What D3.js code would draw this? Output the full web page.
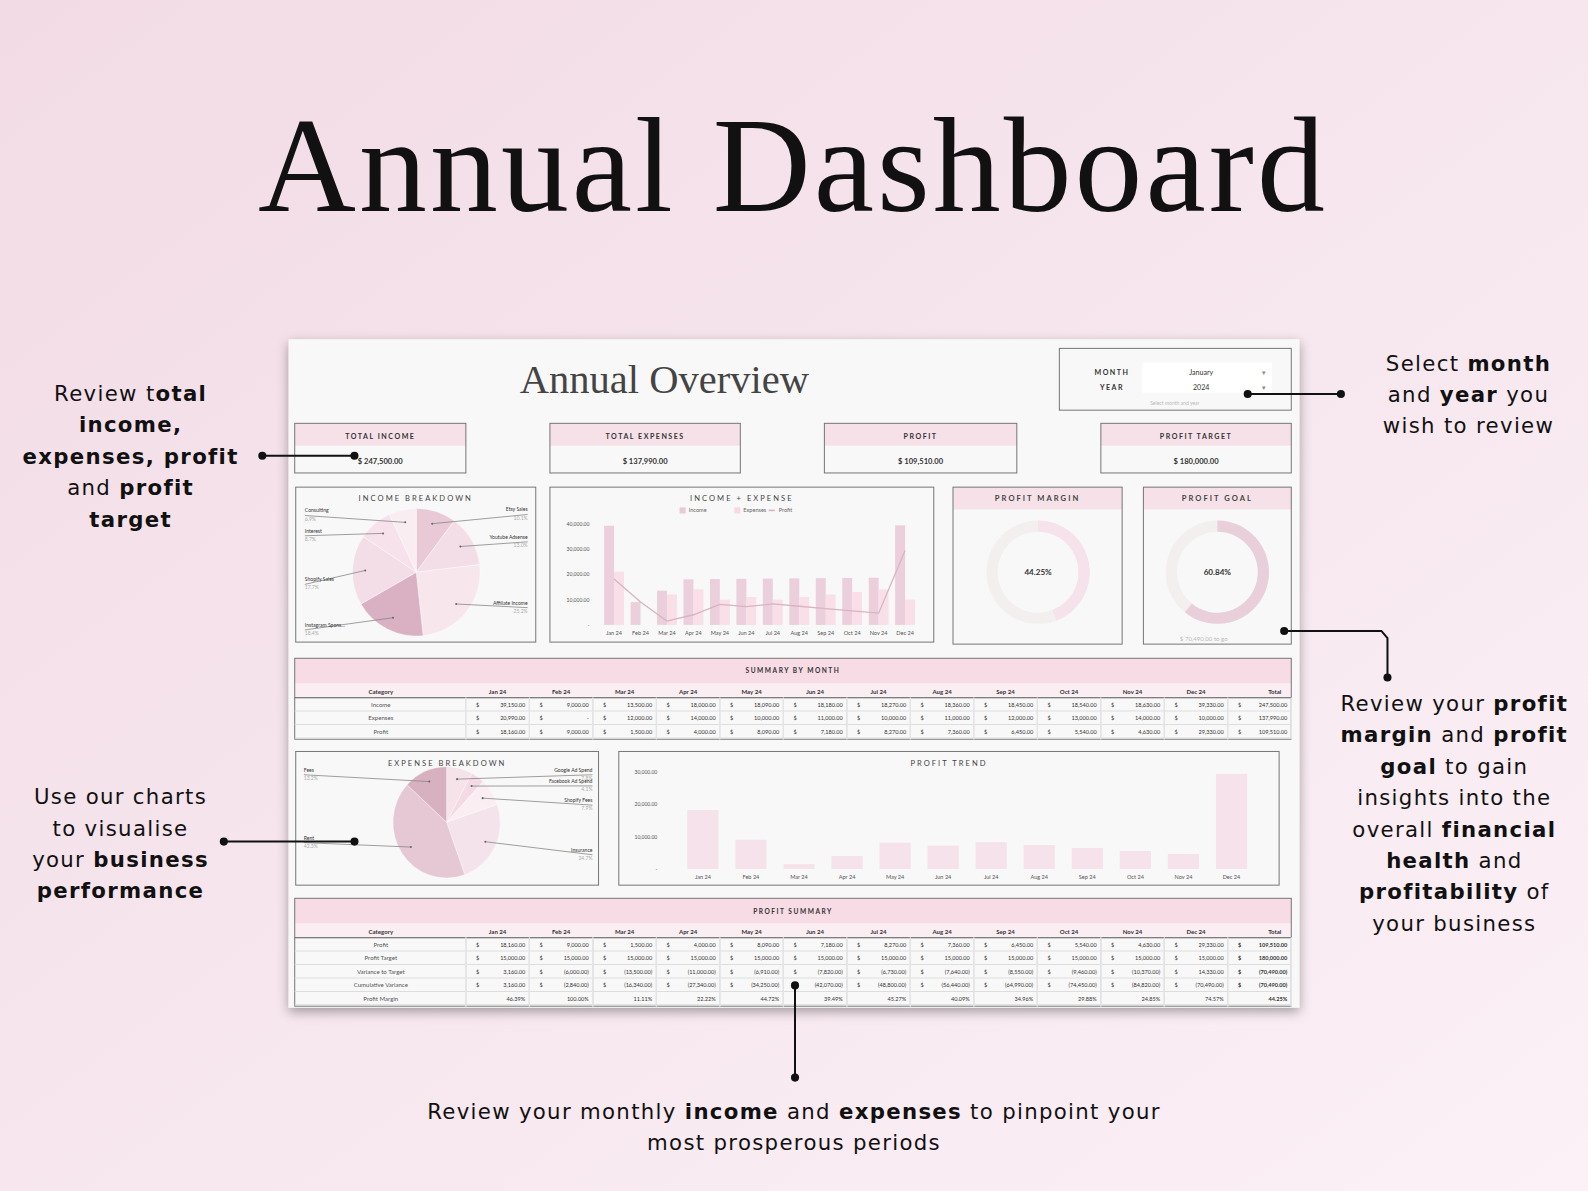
<!DOCTYPE html>
<html><head><meta charset="utf-8">
<script src="https://cdn.jsdelivr.net/npm/d3@7"></script>
<style>body{margin:0;overflow:hidden}svg{display:block}</style>
</head><body><svg id="c" width="1588" height="1191"></svg>
<script>
const months=["Jan 24","Feb 24","Mar 24","Apr 24","May 24","Jun 24","Jul 24","Aug 24","Sep 24","Oct 24","Nov 24","Dec 24"];
const income=[39150,9000,13500,18000,18090,18180,18270,18360,18450,18540,18630,39330];
const expenses=[20990,0,12000,14000,10000,11000,10000,11000,12000,13000,14000,10000];
const profit=[18160,9000,1500,4000,8090,7180,8270,7360,6450,5540,4630,29330];
const profitTarget=[15000,15000,15000,15000,15000,15000,15000,15000,15000,15000,15000,15000];
const profitMargin=[46.39,100,11.11,22.22,44.72,39.49,45.27,40.09,34.96,29.88,24.85,74.57];
const incomeCats=["Etsy Sales","Youtube Adsense","Affiliate Income","Instagram Spons...","Shopify Sales","Interest","Consulting"];
const incomeShare=[10.1,13.0,25.2,18.4,17.7,8.7,6.9];
const expenseCats=["Google Ad Spend","Facebook Ad Spend","Shopify Fees","Insurance","Rent","Fees"];
const expenseShare=[7.8,4.1,7.9,24.7,42.3,13.2];
const kpiLabels=["TOTAL INCOME","TOTAL EXPENSES","PROFIT","PROFIT TARGET"];
const kpiValues=[247500,137990,109510,180000];
const marginPct=44.25, goalPct=60.84, goalRemaining=70490;
const yTicks1=[0,10000,20000,30000,40000];
const yTicks2=[0,10000,20000,30000];

const root=d3.select("#c");
const defs=root.append("defs");
const g=defs.append("linearGradient").attr("id","bg").attr("x1",0).attr("y1",0).attr("x2",1).attr("y2",1);
g.append("stop").attr("offset",0).attr("stop-color","#f2dbe5");
g.append("stop").attr("offset",1).attr("stop-color","#fbf1f6");
const f=defs.append("filter").attr("id","sh").attr("x","-5%").attr("y","-5%").attr("width","110%").attr("height","115%");
f.append("feDropShadow").attr("dx",0).attr("dy",4).attr("stdDeviation",6).attr("flood-color","#000").attr("flood-opacity",0.35);
root.append("rect").attr("width",1588).attr("height",1191).attr("fill","url(#bg)");
const svg=root.append("g").attr("transform","scale(1.01276)");

const SANS="Lato, 'Open Sans', sans-serif", SERIF="'Liberation Serif', 'DejaVu Serif', serif", WIDE="'DejaVu Sans', sans-serif";
function txt(p,x,y,s,o={}){return p.append("text").attr("x",x).attr("y",y).text(s)
 .attr("font-family",o.ff||SANS).attr("font-size",o.fs||10).attr("fill",o.fill||"#333")
 .attr("text-anchor",o.a||"middle").attr("font-weight",o.w||"normal").attr("letter-spacing",o.ls||0);}

txt(svg,783,208,"Annual Dashboard",{ff:SERIF,fs:134,fill:"#111",ls:3});

// card
svg.append("rect").attr("x",285).attr("y",335).attr("width",998).attr("height",660).attr("fill","#f8f8f8").attr("filter","url(#sh)");
txt(svg,656,388,"Annual Overview",{ff:SERIF,fs:40,fill:"#444"});

// month/year
svg.append("rect").attr("x",1046).attr("y",344).attr("width",229).attr("height",61).attr("fill","none").attr("stroke","#777");
svg.append("rect").attr("x",1128).attr("y",358).attr("width",128).attr("height",30).attr("fill","#fff");
txt(svg,1098,370,"MONTH",{fs:7,w:"bold",ls:1.5});
txt(svg,1098,385,"YEAR",{fs:7,w:"bold",ls:1.5});
txt(svg,1186,370,"January",{fs:7});txt(svg,1186,385,"2024",{fs:7});
txt(svg,1248,370,"▾",{fs:7,fill:"#888"});txt(svg,1248,385,"▾",{fs:7,fill:"#888"});
txt(svg,1160,400,"Select month and year",{fs:5,fill:"#bbb"});

// KPIs
const kpiX=[[291,460],[543,731],[814,1004],[1087,1275]];
const fmt=d3.format(",.2f");
kpiX.forEach((k,i)=>{
 svg.append("rect").attr("x",k[0]).attr("y",418).attr("width",k[1]-k[0]).attr("height",22).attr("fill","#f6e1e9");
 svg.append("rect").attr("x",k[0]).attr("y",418).attr("width",k[1]-k[0]).attr("height",49).attr("fill","none").attr("stroke","#777");
 const cx=(k[0]+k[1])/2;
 txt(svg,cx,433,kpiLabels[i],{fs:7,w:"bold",ls:1.5});
 txt(svg,cx,458,"$      "+fmt(kpiValues[i]),{fs:7.5,w:"bold"});
});

function panel(x,y,w,h,title,pinkHead){
 if(pinkHead) svg.append("rect").attr("x",x).attr("y",y).attr("width",w).attr("height",22).attr("fill","#f6e1e9");
 svg.append("rect").attr("x",x).attr("y",y).attr("width",w).attr("height",h).attr("fill","none").attr("stroke","#777");
 txt(svg,x+w/2,y+14,title,{fs:7.5,w:pinkHead?"bold":"normal",ls:2,fill:"#444"});
}

// income breakdown
panel(292,481,237,153,"INCOME BREAKDOWN");
const pieCol1=["#e8c9d5","#f3dde6","#f7e6ec","#d9b1c2","#f3dde6","#f7e2ec","#f9edf2"];
function drawPie(cx,cy,rx,ry,vals,cols,cats,lblPos){
 const arcs=d3.pie().sort(null)(vals);
 const arc=d3.arc().innerRadius(0).outerRadius(1);
 const gp=svg.append("g").attr("transform",`translate(${cx},${cy}) scale(${rx},${ry})`);
 gp.selectAll("path").data(arcs).join("path").attr("d",arc).attr("fill",(d,i)=>cols[i]).attr("stroke","#fff").attr("stroke-width",0.6/rx).attr("stroke-opacity",0.6);
 arcs.forEach((d,i)=>{
  const m=(d.startAngle+d.endAngle)/2, px=cx+Math.sin(m)*rx*0.8, py=cy-Math.cos(m)*ry*0.8;
  const L=lblPos[i];
  svg.append("line").attr("x1",px).attr("y1",py).attr("x2",L[0]).attr("y2",L[1]+3).attr("stroke","#888").attr("stroke-width",0.8);
  svg.append("circle").attr("cx",px).attr("cy",py).attr("r",1).attr("fill","#666");
  const a=L[2];
  txt(svg,L[0],L[1],cats[i],{fs:5,a:a,fill:"#333"});
  txt(svg,L[0],L[1]+8,vals[i].toFixed(1)+"%",{fs:5,a:a,fill:"#aaa"});
 });
}
drawPie(411,565,63,63,incomeShare,pieCol1,incomeCats,[[521,505,"end"],[521,532,"end"],[521,597,"end"],[301,619,"start"],[301,574,"start"],[301,526,"start"],[301,506,"start"]]);

// income+expense
panel(543,481,379,153,"INCOME + EXPENSE");
const lg=[[677,"#e8c9d5","Income","rect"],[731,"#f7d9e3","Expenses","rect"],[766,"#d9aabb","Profit","line"]];
lg.forEach(l=>{
 if(l[3]=="rect") svg.append("rect").attr("x",l[0]-6).attr("y",501).attr("width",6).attr("height",6).attr("fill",l[1]);
 else svg.append("line").attr("x1",l[0]-7).attr("x2",l[0]-1).attr("y1",504).attr("y2",504).attr("stroke",l[1]).attr("stroke-width",1.5);
 txt(svg,l[0]+3,506,l[2],{fs:5.5,a:"start",fill:"#666"});
});
const x1=d3.scaleBand().domain(months).range([590,910]).padding(0.25);
const y1=d3.scaleLinear().domain([0,40000]).range([617,517]);
const gi=svg.append("g");
gi.selectAll(".bi").data(months).join("rect").attr("x",d=>x1(d)).attr("width",x1.bandwidth()/2).attr("y",(d,i)=>y1(income[i])).attr("height",(d,i)=>y1(0)-y1(income[i])).attr("fill","#ebcfda");
gi.selectAll(".be").data(months).join("rect").attr("x",d=>x1(d)+x1.bandwidth()/2).attr("width",x1.bandwidth()/2).attr("y",(d,i)=>y1(expenses[i])).attr("height",(d,i)=>y1(0)-y1(expenses[i])).attr("fill","#f8dfe8");
gi.append("path").attr("d",d3.line().x((d,i)=>x1(months[i])+x1.bandwidth()/2).y(d=>y1(d))(profit)).attr("fill","none").attr("stroke","#dbb3c3").attr("stroke-width",1.3);
const ya=svg.append("g").attr("transform","translate(585,0)").call(d3.axisLeft(y1).tickValues(yTicks1).tickSize(0).tickFormat(d=>d?fmt(d):"-"));
ya.select(".domain").remove();ya.selectAll("text").attr("font-size",5).attr("fill","#555").attr("font-family",SANS);
const xa=svg.append("g").attr("transform","translate(0,620)").call(d3.axisBottom(x1).tickSize(0));
xa.select(".domain").remove();xa.selectAll("text").attr("font-size",5.5).attr("fill","#555").attr("font-family",SANS);

// donuts
function donut(x,w,title,pct,col,cx,foot){
 panel(x,481,w,155,title,true);
 const cy=565;
 const a=d3.arc().innerRadius(40).outerRadius(51);
 svg.append("path").attr("transform",`translate(${cx},${cy})`).attr("d",a({startAngle:0,endAngle:2*Math.PI})).attr("fill","#f3efef");
 svg.append("path").attr("transform",`translate(${cx},${cy})`).attr("d",a({startAngle:0,endAngle:2*Math.PI*pct/100})).attr("fill",col);
 txt(svg,cx,568,pct.toFixed(2)+"%",{fs:8,w:"bold"});
 if(foot) txt(svg,x+36,633,foot,{fs:6,a:"start",fill:"#bbb"});
}
donut(941,167,"PROFIT MARGIN",marginPct,"#f6e2ea",1025);
donut(1129,146,"PROFIT GOAL",goalPct,"#e9cfd9",1202,"$   "+d3.format(",.2f")(goalRemaining)+"   to go");

// tables
const colX0=460,colW=(1275-460)/13;
function table(y,title,rows,boldTotal){
 const h=22+13+rows.length*13.3;
 svg.append("rect").attr("x",291).attr("y",y).attr("width",984).attr("height",25).attr("fill","#f7dbe5");
 svg.append("rect").attr("x",291).attr("y",y+25).attr("width",984).attr("height",13).attr("fill","#fbeef3");
 svg.append("rect").attr("x",291).attr("y",y).attr("width",984).attr("height",h+5).attr("fill","none").attr("stroke","#777");
 txt(svg,783,y+15,title,{fs:6.5,w:"bold",ls:1.5});
 const hy=y+35;
 txt(svg,376,hy,"Category",{fs:6,w:"bold"});
 months.concat(["Total"]).forEach((m,j)=>txt(svg,colX0+colW*j+colW/2+(j==12?15:0),hy,m,{fs:6,w:"bold"}));
 svg.append("line").attr("x1",291).attr("x2",1275).attr("y1",y+39).attr("y2",y+39).attr("stroke","#555");
 rows.forEach((r,k)=>{
  const ry=y+48+k*13.3;
  svg.append("line").attr("x1",291).attr("x2",1275).attr("y1",ry+4).attr("y2",ry+4).attr("stroke","#ddd");
  txt(svg,376,ry,r.name,{fs:6,fill:"#555"});
  const vals=r.vals.concat([r.total]);
  vals.forEach((v,j)=>{
   const x=colX0+colW*j, b=boldTotal&&j==12;
   if(r.pct){txt(svg,x+colW-4,ry,v.toFixed(2)+"%",{fs:5.5,a:"end",w:b?"bold":"normal"});return;}
   txt(svg,x+10,ry,"$",{fs:5.5,a:"start",w:b?"bold":"normal"});
   const s=v==0?"-   ":v<0?"("+fmt(-v)+")":fmt(v)+" ";
   txt(svg,x+colW-4,ry,s,{fs:5.5,a:"end",w:b?"bold":"normal"});
  });
  for(let j=0;j<=13;j++) svg.append("line").attr("x1",colX0+colW*j).attr("x2",colX0+colW*j).attr("y1",y+39).attr("y2",y+h+5).attr("stroke","#e4e4e4");
 });
}
const sum=a=>d3.sum(a);
table(650,"SUMMARY BY MONTH",[
 {name:"Income",vals:income,total:sum(income)},
 {name:"Expenses",vals:expenses,total:sum(expenses)},
 {name:"Profit",vals:profit,total:sum(profit)}],false);
const variance=profit.map((p,i)=>p-profitTarget[i]);
let c=0;const cumVar=variance.map(v=>c+=v);
table(887,"PROFIT SUMMARY",[
 {name:"Profit",vals:profit,total:sum(profit)},
 {name:"Profit Target",vals:profitTarget,total:sum(profitTarget)},
 {name:"Variance to Target",vals:variance,total:sum(variance)},
 {name:"Cumulative Variance",vals:cumVar,total:cumVar[11]},
 {name:"Profit Margin",vals:profitMargin,total:marginPct,pct:true}],true);

// expense breakdown
panel(292,742,299,132,"EXPENSE BREAKDOWN");
const pieCol2=["#f6e3ea","#f3dae4","#fbeef3","#f4e3ea","#e6c8d4","#d8b1c1"];
drawPie(441,812,53,55,expenseShare,pieCol2,expenseCats,[[585,762,"end"],[585,773,"end"],[585,792,"end"],[585,841,"end"],[300,829,"start"],[300,762,"start"]]);

// profit trend
panel(611,742,652,132,"PROFIT TREND");
const x2=d3.scaleBand().domain(months).range([662,1248]).padding(0.35);
const y2=d3.scaleLinear().domain([0,30000]).range([858,762]);
svg.append("g").selectAll("rect").data(months).join("rect").attr("x",d=>x2(d)).attr("width",x2.bandwidth()).attr("y",(d,i)=>y2(profit[i])).attr("height",(d,i)=>y2(0)-y2(profit[i])).attr("fill","#f6e2ea");
const ya2=svg.append("g").attr("transform","translate(652,0)").call(d3.axisLeft(y2).tickValues(yTicks2).tickSize(0).tickFormat(d=>d?fmt(d):"-"));
ya2.select(".domain").remove();ya2.selectAll("text").attr("font-size",5).attr("fill","#555").attr("font-family",SANS);
const xa2=svg.append("g").attr("transform","translate(0,861)").call(d3.axisBottom(x2).tickSize(0));
xa2.select(".domain").remove();xa2.selectAll("text").attr("font-size",5.5).attr("fill","#555").attr("font-family",SANS);

// annotations
function ann(lines,x,y0,lh){
 lines.forEach((parts,k)=>{
  const t=svg.append("text").attr("x",x).attr("y",y0+k*lh).attr("text-anchor","middle").attr("font-family",WIDE).attr("font-size",21).attr("fill","#111").attr("letter-spacing",1.3);
  parts.forEach(p=>t.append("tspan").text(p[0]).attr("font-weight",p[1]?"bold":"normal"));
 });
}
ann([[["Review t",0],["otal",1]],[["income,",1]],[["expenses, profit",1]],[["and ",0],["profit",1]],[["target",1]]],129,396,31);
ann([[["Use our charts",0]],[["to visualise",0]],[["your ",0],["business",1]],[["performance",1]]],119,794,31);
ann([[["Select ",0],["month",1]],[["and ",0],["year",1],[" you",0]],[["wish to review",0]]],1450,366,31);
ann([[["Review your ",0],["profit",1]],[["margin",1],[" and ",0],["profit",1]],[["goal",1],[" to gain",0]],[["insights into the",0]],[["overall ",0],["financial",1]],[["health",1],[" and",0]],[["profitability",1],[" of",0]],[["your business",0]]],1436,702,31);
ann([[["Review your monthly ",0],["income",1],[" and ",0],["expenses",1],[" to pinpoint your",0]],[["most prosperous periods",0]]],784,1105,31);

function lead(pts){svg.append("path").attr("d",d3.line()(pts)).attr("fill","none").attr("stroke","#111").attr("stroke-width",2);
 svg.append("circle").attr("cx",pts[0][0]).attr("cy",pts[0][1]).attr("r",4).attr("fill","#111");
 svg.append("circle").attr("cx",pts[pts.length-1][0]).attr("cy",pts[pts.length-1][1]).attr("r",4).attr("fill","#111");}
lead([[259,450],[350,450]]);
lead([[221,831],[350,831]]);
lead([[1232,389],[1324,389]]);
lead([[1268,623],[1364,623],[1370,630],[1370,669]]);
lead([[785,973],[785,1064]]);
</script></body></html>
